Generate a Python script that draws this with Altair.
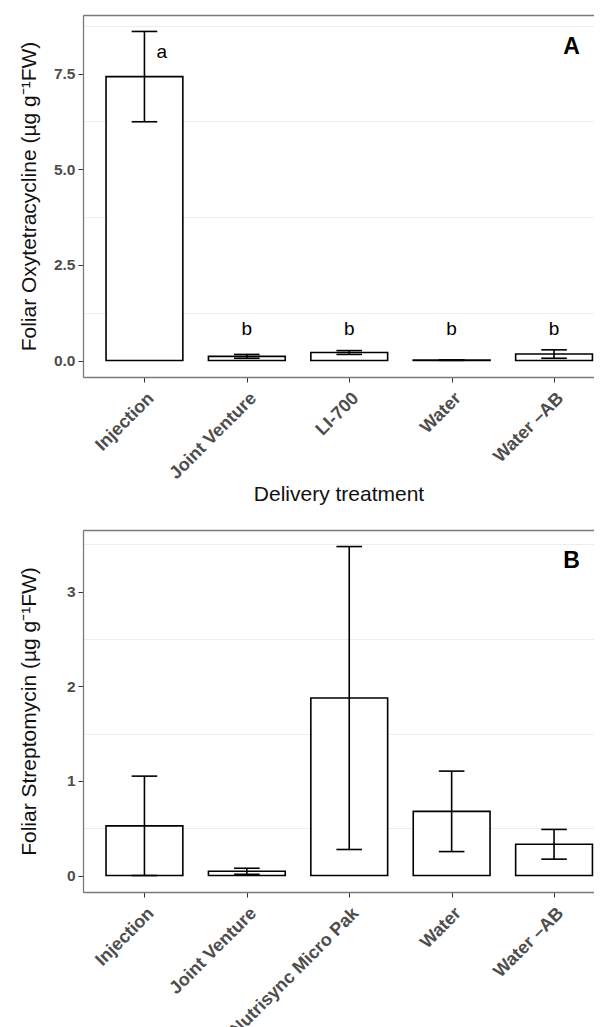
import json
import altair as alt
import pandas as pd

# ---- data ----
cats_a = ["Injection", "Joint Venture", "LI-700", "Water", "Water \u2013AB"]
mean_a = [7.42, 0.11, 0.21, 0.01, 0.17]
se_a = [1.18, 0.05, 0.05, 0.005, 0.11]
letters_a = ["a", "b", "b", "b", "b"]
letter_x_a = [0.17, 1, 2, 3, 4]
letter_y_a = [8.07, 0.83, 0.83, 0.83, 0.83]

cats_b = ["Injection", "Joint Venture", "Nutrisync Micro Pak", "Water", "Water \u2013AB"]
mean_b = [0.525, 0.045, 1.875, 0.678, 0.33]
se_b = [0.525, 0.032, 1.60, 0.425, 0.157]

y_ticks_a = [0, 2.5, 5.0, 7.5]
y_minor_a = [1.25, 3.75, 6.25, 8.75]
y_ticks_b = [0, 1, 2, 3]
y_minor_b = [0.5, 1.5, 2.5, 3.5]

FONT = "Liberation Sans"
W = 511
H = 362
STEP = 102.4
FRAME = "#7A7A7A"


def panel(cats, means, ses, ydom, yticks, yminor, yfmt, ytitle, tag, tag_y,
          letters=None, lx=None, ly=None):
    df = pd.DataFrame({"idx": list(range(len(cats))), "cat": cats,
                       "mean": means, "se": ses})
    base = alt.Chart(df).transform_calculate(
        lo="max(0, datum.mean - datum.se)",
        hi="datum.mean + datum.se",
        b1="datum.idx - 0.375",
        b2="datum.idx + 0.375",
        c1="datum.idx - 0.125",
        c2="datum.idx + 0.125",
        zero="0",
    )
    label_expr = json.dumps(cats) + "[datum.value]"
    xscale = alt.Scale(domain=[-0.6, -0.6 + W / STEP], nice=False, zero=False)
    yscale = alt.Scale(domain=ydom, nice=False, zero=False)
    xaxis = alt.Axis(values=list(range(len(cats))), labelExpr=label_expr,
                     labelAngle=-45, labelAlign="right", labelBaseline="top",
                     labelFontSize=18, labelFontWeight="bold",
                     labelColor="#4D4D4D", labelPadding=7, labelFont=FONT,
                     labelOverlap=False, labelBound=False, labelLimit=0,
                     ticks=True, tickSize=5, tickColor="#333333",
                     domain=True, domainColor=FRAME, domainWidth=1.3,
                     grid=False, title="Delivery treatment",
                     titleFontSize=21, titleFontWeight="normal",
                     titleColor="#111111", titlePadding=1, titleFont=FONT)
    topaxis = alt.Axis(orient="top", domain=True, domainColor=FRAME,
                       domainWidth=1.3, labels=False, ticks=False, grid=False,
                       title=None, minExtent=0, maxExtent=0)
    yaxis = alt.Axis(values=yticks, format=yfmt, labelFontSize=15.5,
                     labelFontWeight="bold", labelColor="#4D4D4D",
                     labelPadding=3, labelFont=FONT, tickSize=5,
                     tickColor="#333333", domain=True, domainColor=FRAME,
                     domainWidth=1.3, grid=False,
                     title=ytitle, titleFontSize=21, titleFontWeight="normal",
                     titleColor="#111111", titlePadding=12, titleFont=FONT,
                     minExtent=32, maxExtent=32)
    gridaxis = alt.Axis(orient="right", values=yminor, grid=True,
                        gridColor="#EDEDED", gridWidth=1.2, labels=False,
                        ticks=False, domain=False, title=None,
                        minExtent=0, maxExtent=0)

    gridl = base.mark_rule(opacity=0).encode(
        x=alt.X("idx:Q", scale=xscale, axis=topaxis),
        y=alt.Y("mean:Q", scale=yscale, axis=gridaxis),
    )
    bars = base.mark_rect(fill="white", stroke="black", strokeWidth=1.6).encode(
        x=alt.X("b1:Q", scale=xscale, axis=xaxis),
        x2="b2:Q",
        y=alt.Y("zero:Q", scale=yscale, axis=yaxis),
        y2="mean:Q",
    )
    err = base.mark_rule(color="black", strokeWidth=1.6).encode(
        x=alt.X("idx:Q", scale=xscale, axis=None),
        y=alt.Y("lo:Q", scale=yscale, axis=None),
        y2="hi:Q",
    )
    cap_hi = base.mark_rule(color="black", strokeWidth=1.6).encode(
        x=alt.X("c1:Q", scale=xscale, axis=None), x2="c2:Q",
        y=alt.Y("hi:Q", scale=yscale, axis=None),
    )
    cap_lo = base.mark_rule(color="black", strokeWidth=1.6).encode(
        x=alt.X("c1:Q", scale=xscale, axis=None), x2="c2:Q",
        y=alt.Y("lo:Q", scale=yscale, axis=None),
    )
    layers = [gridl, bars, err, cap_hi, cap_lo]
    if letters:
        ldf = pd.DataFrame({"lx": lx, "ly": ly, "txt": letters})
        txt = alt.Chart(ldf).mark_text(font=FONT, fontSize=19, color="black",
                                       baseline="middle", align="center").encode(
            x=alt.X("lx:Q", scale=xscale, axis=None),
            y=alt.Y("ly:Q", scale=yscale, axis=None),
            text="txt:N",
        )
        layers.append(txt)
    tdf = pd.DataFrame({"tx": [4.17], "ty": [tag_y], "t": [tag]})
    tagm = alt.Chart(tdf).mark_text(font=FONT, fontSize=23, fontWeight="bold",
                                    color="black", baseline="middle",
                                    align="center").encode(
        x=alt.X("tx:Q", scale=xscale, axis=None),
        y=alt.Y("ty:Q", scale=yscale, axis=None),
        text="t:N",
    )
    layers.append(tagm)
    return alt.layer(*layers).resolve_axis(
        x="independent", y="independent").properties(width=W, height=H)


pa = panel(cats_a, mean_a, se_a, [-0.43, 9.03], y_ticks_a, y_minor_a, ".1f",
           "Foliar Oxytetracycline (\u00b5g g\u207b\u00b9FW)", "A", 8.2,
           letters_a, letter_x_a, letter_y_a)
pb = panel(cats_b, mean_b, se_b, [-0.174, 3.65], y_ticks_b, y_minor_b, "d",
           "Foliar Streptomycin (\u00b5g g\u207b\u00b9FW)", "B", 3.32)

chart = alt.vconcat(pa, pb, spacing=25).properties(
    padding={"left": 10, "top": 7, "right": 0, "bottom": 0},
    background="white",
).configure_view(stroke=None)

chart.save("out.html", embed_options={"renderer": "svg", "actions": False})
